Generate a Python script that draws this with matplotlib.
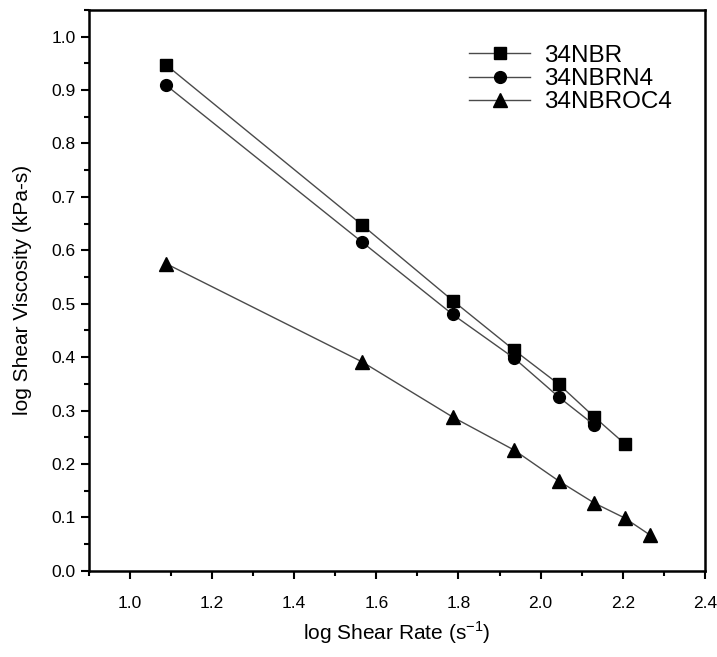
import matplotlib
matplotlib.use('Agg')
import matplotlib.pyplot as plt
from matplotlib.ticker import MultipleLocator

plt.rcParams['font.family'] = ['Liberation Sans', 'DejaVu Sans']
plt.rcParams['mathtext.fontset'] = 'custom'
plt.rcParams['mathtext.rm'] = 'Liberation Sans'

# log shear rate (s^-1)
rate_nbr = [1.088, 1.566, 1.786, 1.936, 2.045, 2.131, 2.205]
rate_n4 = [1.088, 1.566, 1.786, 1.936, 2.045, 2.131]
rate_oc4 = [1.088, 1.566, 1.786, 1.936, 2.045, 2.131, 2.205, 2.267]

# log shear viscosity (kPa-s)
visc_nbr = [0.947, 0.647, 0.506, 0.413, 0.349, 0.288, 0.238]
visc_n4 = [0.909, 0.615, 0.480, 0.398, 0.325, 0.273]
visc_oc4 = [0.575, 0.391, 0.288, 0.226, 0.168, 0.127, 0.099, 0.067]

series_names = ['34NBR', '34NBRN4', '34NBROC4']

fig = plt.figure(figsize=(7.17, 6.57), dpi=100)
ax = fig.add_axes([0.124, 0.131, 0.859, 0.854])

line_kw = dict(color='#4a4a4a', lw=1.0, markerfacecolor='black',
               markeredgecolor='black')
ax.plot(rate_nbr, visc_nbr, marker='s', ms=8, label=series_names[0], **line_kw)
ax.plot(rate_n4, visc_n4, marker='o', ms=8.5, label=series_names[1], **line_kw)
ax.plot(rate_oc4, visc_oc4, marker='^', ms=9.5, label=series_names[2], **line_kw)

ax.set_xlim(0.9, 2.4)
ax.set_ylim(0.0, 1.05)
ax.xaxis.set_major_locator(MultipleLocator(0.2))
ax.xaxis.set_minor_locator(MultipleLocator(0.1))
ax.yaxis.set_major_locator(MultipleLocator(0.1))
ax.yaxis.set_minor_locator(MultipleLocator(0.05))
ax.xaxis.set_major_formatter(plt.FuncFormatter(lambda v, p: f'{v:.1f}'))
ax.yaxis.set_major_formatter(plt.FuncFormatter(lambda v, p: f'{v:.1f}'))

ax.tick_params(which='major', direction='out', length=6, width=1.5,
               labelsize=12.5, top=False, right=False)
ax.tick_params(which='minor', direction='out', length=3.5, width=1.5,
               top=False, right=False)
ax.tick_params(axis='x', which='major', pad=12)
for side in ['left', 'bottom', 'top', 'right']:
    ax.spines[side].set_linewidth(1.8)

ax.set_xlabel('log Shear Rate (s$^{\\mathrm{-1}}$)', fontsize=15, labelpad=6)
ax.set_ylabel('log Shear Viscosity (kPa-s)', fontsize=15, labelpad=14)

ax.legend(loc='upper right', bbox_to_anchor=(0.975, 0.968), frameon=False,
          fontsize=17.5, handlelength=2.5, handletextpad=0.6,
          labelspacing=0.05, borderpad=0.2)

fig.savefig('out.png', dpi=100)
plt.close(fig)
